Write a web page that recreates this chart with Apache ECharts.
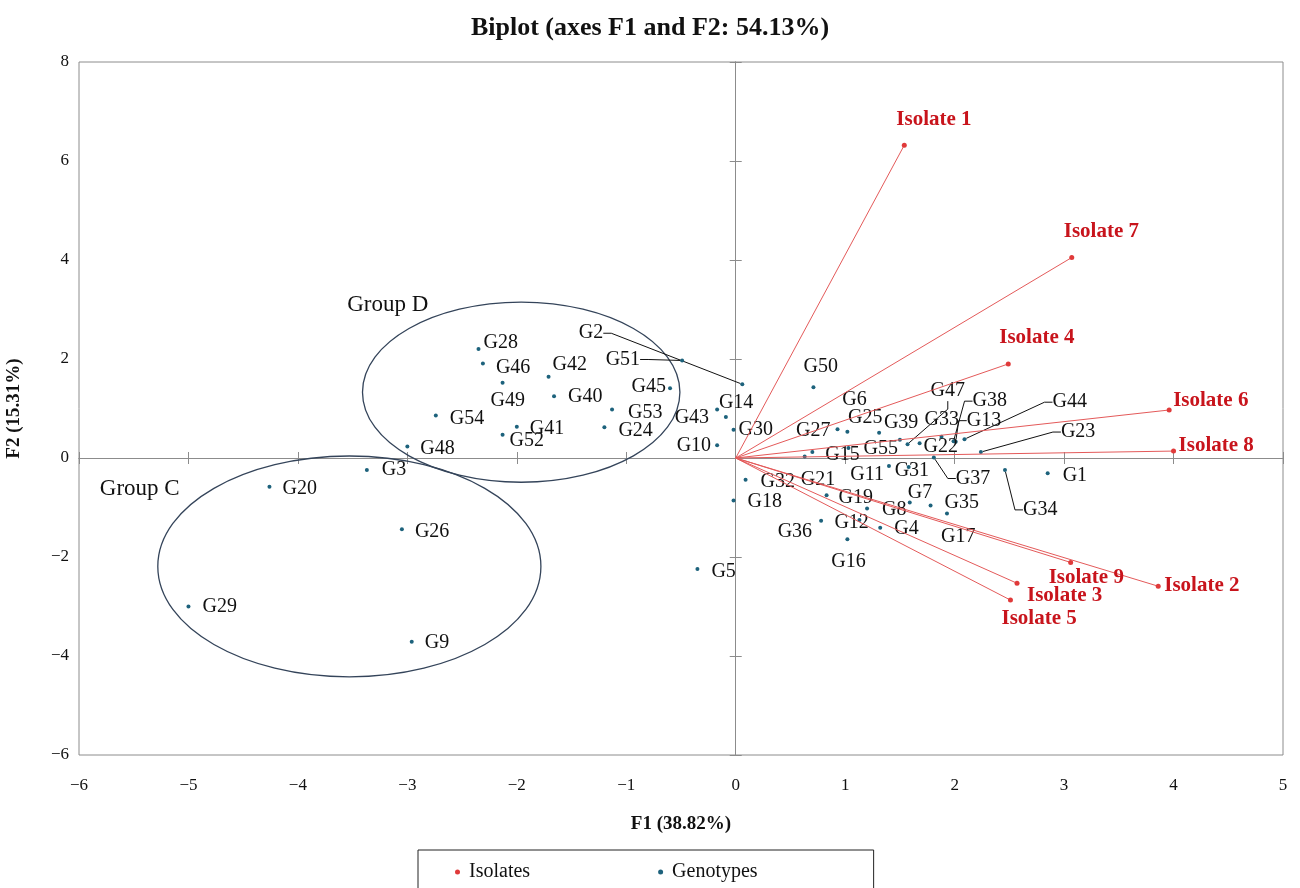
<!DOCTYPE html>
<html>
<head>
<meta charset="utf-8">
<script src="https://cdn.jsdelivr.net/npm/echarts@6/dist/echarts.min.js"></script>
<style>
  html, body { margin: 0; padding: 0; background: #fff; }
  #chart { width: 1300px; height: 888px; }
</style>
</head>
<body>
<div id="chart"></div>
<script>
// ---- Data: genotype scores on F1 / F2 ----
const genotypeNames = [
  'G1','G2','G3','G4','G5','G6','G7','G8','G9','G10',
  'G11','G12','G13','G14','G15','G16','G17','G18','G19','G20',
  'G21','G22','G23','G24','G25','G26','G27','G28','G29','G30',
  'G31','G32','G33','G34','G35','G36','G37','G38','G39','G40',
  'G41','G42','G43','G44','G45','G46','G47','G48','G49','G50',
  'G51','G52','G53','G54','G55'
];
const genotypeF1 = [
  2.85, 0.06, -3.37, 1.32, -0.35, 1.02, 1.59, 1.20, -2.96, -0.17,
  1.40, 1.13, 2.01, -0.09, 0.70, 1.02, 1.93, -0.02, 0.83, -4.26,
  0.63, 1.68, 2.24, -1.20, 1.31, -3.05, 0.93, -2.35, -5.00, -0.02,
  1.58, 0.09, 1.88, 2.46, 1.78, 0.78, 1.81, 1.99, 1.50, -1.66,
  -2.00, -1.71, -0.17, 2.09, -0.60, -2.31, 1.57, -3.00, -2.13, 0.71,
  -0.49, -2.13, -1.13, -2.74, 1.03
];
const genotypeF2 = [
  -0.31, 1.49, -0.24, -1.41, -2.24, 0.53, -0.90, -1.02, -3.71, 0.26,
  -0.16, -1.25, 0.33, 0.83, 0.12, -1.64, -1.12, -0.86, -0.75, -0.58,
  0.03, 0.30, 0.12, 0.62, 0.51, -1.44, 0.58, 2.20, -3.00, 0.57,
  -0.18, -0.44, 0.43, -0.24, -0.96, -1.27, 0.01, 0.34, 0.37, 1.25,
  0.63, 1.64, 0.98, 0.38, 1.41, 1.91, 0.28, 0.23, 1.52, 1.43,
  1.97, 0.47, 0.98, 0.86, 0.20
];

// ---- Data: isolate loadings (vectors from the origin) ----
const isolateNames = ['Isolate 1','Isolate 2','Isolate 3','Isolate 4','Isolate 5','Isolate 6','Isolate 7','Isolate 8','Isolate 9'];
const isolateF1 = [1.54, 3.86, 2.57, 2.49, 2.51, 3.96, 3.07, 4.00, 3.06];
const isolateF2 = [6.32, -2.59, -2.53, 1.90, -2.87, 0.97, 4.05, 0.14, -2.11];

// ---- Axis ticks ----
const xTicks = [-6, -5, -4, -3, -2, -1, 0, 1, 2, 3, 4, 5];
const yTicks = [-6, -4, -2, 0, 2, 4, 6, 8];

// ---- Group outlines (centre, semi-axes in axis units) ----
const groupNames = ['Group D', 'Group C'];
const groupCenterF1 = [-1.96, -3.53];
const groupCenterF2 = [1.33, -2.19];
const groupRadiusF1 = [1.45, 1.75];
const groupRadiusF2 = [1.82, 2.23];

// ---- Layout: label placement in pixels relative to each point ----
// [dx, dy] -> label starts to the right; [dx, dy, 'r'] -> label ends at dx
const genoLabelPlace = {
  G28: [5, -6], G46: [13, 4], G49: [-12, 18], G42: [4, -12], G40: [14, 1],
  G54: [14, 3], G41: [13, 2], G52: [7, 6], G48: [13, 2], G53: [16, 3],
  G24: [14, 3], G45: [-4, -1, 'r'], G51: [-42, -1, 'r'], G2: [-139, -51, 'r'],
  G43: [-8, 8, 'r'], G14: [-7, -14], G10: [-6, 1, 'r'], G30: [5, 0],
  G50: [-10, -20], G27: [-7, 1, 'r'], G6: [-5, -32], G25: [-31, -15],
  G39: [-16, -17], G47: [23, -53], G33: [-17, -17], G38: [19, -40],
  G13: [11, -21], G44: [88, -37], G23: [80, -20], G22: [4, 4], G55: [15, 1],
  G15: [13, 3], G21: [-4, 23], G11: [-5, 9, 'r'], G31: [-14, 4],
  G37: [22, 21], G34: [18, 40], G1: [15, 2], G32: [15, 2], G18: [14, 1],
  G19: [12, 3], G36: [-9, 11, 'r'], G12: [-25, 3], G16: [-16, 23], G8: [15, 1],
  G4: [14, 1], G7: [-2, -10], G35: [14, -3], G17: [-6, 23], G5: [14, 3],
  G3: [15, 0], G20: [13, 2], G26: [13, 2], G29: [14, 0], G9: [13, 1]
};
const genoWithLeader = ['G2', 'G51', 'G47', 'G38', 'G13', 'G44', 'G23', 'G37', 'G34'];
const isoLabelPlace = {
  'Isolate 1': [-8, -26], 'Isolate 7': [-8, -26], 'Isolate 4': [-9, -26],
  'Isolate 6': [4, -9], 'Isolate 8': [5, -5], 'Isolate 9': [-22, 15],
  'Isolate 2': [6, -1], 'Isolate 3': [10, 12], 'Isolate 5': [-9, 19]
};

const SERIF = '"Liberation Serif", "Times New Roman", serif';
const GENO_COLOR = '#1d627c';
const ISO_DOT = '#e03a3a';
const ISO_LINE = '#e45a5a';
const ISO_TEXT = '#c8141c';
const FRAME = '#8c8c8c';
const INK = '#111111';

const genotypeData = genotypeNames.map((n, i) => ({
  name: n,
  value: [genotypeF1[i], genotypeF2[i]],
  labelLine: { show: genoWithLeader.indexOf(n) >= 0 }
}));
const isolateData = isolateNames.map((n, i) => ({ name: n, value: [isolateF1[i], isolateF2[i]] }));
const groupData = groupNames.map((n, i) => ({
  name: n,
  value: [groupCenterF1[i], groupCenterF2[i], groupRadiusF1[i], groupRadiusF2[i]]
}));
// group caption anchors (axis units: left edge / vertical middle of text)
const groupCaptionAt = { 'Group D': [-3.55, 3.09], 'Group C': [-5.81, -0.63] };

function placeLabel(names, place) {
  return function (p) {
    const nm = names[p.dataIndex];
    const pl = place[nm] || [13, 2];
    const cx = p.rect.x + p.rect.width / 2;
    const cy = p.rect.y + p.rect.height / 2;
    return {
      x: cx + pl[0],
      y: cy + pl[1],
      align: pl[2] === 'r' ? 'right' : 'left',
      verticalAlign: 'middle'
    };
  };
}

const minus = v => String(v).replace('-', '\u2212');
const xMin = xTicks[0], xMax = xTicks[xTicks.length - 1], xStep = xTicks[1] - xTicks[0];
const yMin = yTicks[0], yMax = yTicks[yTicks.length - 1], yStep = yTicks[1] - yTicks[0];

function valueAxis(min, max, step, extra) {
  return Object.assign({
    type: 'value', min: min, max: max, interval: step,
    splitLine: { show: false }
  }, extra);
}

const zeroAxisCommon = (inside) => ({
  axisLine: { show: true, onZero: true, onZeroAxisIndex: 0, lineStyle: { color: FRAME, width: 1 } },
  axisTick: { show: true, inside: inside, length: 6, lineStyle: { color: FRAME, width: 1 } },
  axisLabel: { show: false },
  name: ''
});

const chart = echarts.init(document.getElementById('chart'), null, { renderer: 'canvas' });

chart.setOption({
  animation: false,
  backgroundColor: '#ffffff',
  title: {
    text: 'Biplot (axes F1 and F2: 54.13%)',
    left: 'center',
    top: 10,
    textStyle: { fontFamily: SERIF, fontWeight: 'bold', fontSize: 26, color: INK }
  },
  legend: {
    data: [
      { name: 'Isolates', icon: 'circle' },
      { name: 'Genotypes', icon: 'circle' }
    ],
    selectedMode: false,
    left: 418,
    top: 850,
    orient: 'horizontal',
    itemWidth: 5,
    itemHeight: 5,
    itemGap: 128,
    padding: [12, 116, 30, 37],
    borderColor: '#222',
    borderWidth: 1,
    textStyle: { fontFamily: SERIF, fontSize: 20, color: INK, padding: [0, 0, 0, 4] }
  },
  grid: {
    left: 79, right: 17, top: 62, bottom: 133,
    show: true, borderColor: FRAME, borderWidth: 1,
    containLabel: false, outerBoundsMode: 'none'
  },
  xAxis: [
    valueAxis(xMin, xMax, xStep, {
      position: 'bottom',
      axisLine: { show: false, onZero: false },
      axisTick: { show: false },
      axisLabel: { margin: 22, fontFamily: SERIF, fontSize: 17, color: INK, formatter: minus },
      name: 'F1 (38.82%)',
      nameLocation: 'middle',
      nameGap: 60,
      nameTextStyle: { fontFamily: SERIF, fontWeight: 'bold', fontSize: 19, color: INK }
    }),
    valueAxis(xMin, xMax, xStep, Object.assign({ position: 'bottom' }, zeroAxisCommon(false))),
    valueAxis(xMin, xMax, xStep, Object.assign({ position: 'bottom' }, zeroAxisCommon(true)))
  ],
  yAxis: [
    valueAxis(yMin, yMax, yStep, {
      position: 'left',
      axisLine: { show: false, onZero: false },
      axisTick: { show: false },
      axisLabel: { margin: 10, fontFamily: SERIF, fontSize: 17, color: INK, formatter: minus },
      name: 'F2 (15.31%)',
      nameLocation: 'middle',
      nameGap: 55,
      nameRotate: 90,
      nameTextStyle: { fontFamily: SERIF, fontWeight: 'bold', fontSize: 19, color: INK }
    }),
    valueAxis(yMin, yMax, yStep, Object.assign({ position: 'left' }, zeroAxisCommon(false))),
    valueAxis(yMin, yMax, yStep, Object.assign({ position: 'left' }, zeroAxisCommon(true)))
  ],
  series: [
    {
      // ellipses around the two genotype clusters
      name: 'groups',
      type: 'custom',
      silent: true,
      data: groupData,
      renderItem: function (params, api) {
        const c = api.coord([api.value(0), api.value(1)]);
        const rx = api.size([api.value(2), 0])[0];
        const ry = api.size([0, api.value(3)])[1];
        const nm = groupNames[params.dataIndex];
        const cap = api.coord(groupCaptionAt[nm]);
        return {
          type: 'group',
          children: [
            {
              type: 'ellipse',
              shape: { cx: c[0], cy: c[1], rx: rx, ry: ry },
              style: { fill: null, stroke: '#34445a', lineWidth: 1.3 }
            },
            {
              type: 'text',
              style: {
                text: nm, x: cap[0], y: cap[1],
                verticalAlign: 'middle', align: 'left',
                font: '23px ' + SERIF, fill: INK
              }
            }
          ]
        };
      }
    },
    {
      name: 'Genotypes',
      type: 'scatter',
      symbol: 'circle',
      symbolSize: 4,
      itemStyle: { color: GENO_COLOR, opacity: 1 },
      data: genotypeData,
      label: {
        show: true,
        formatter: '{b}',
        fontFamily: SERIF,
        fontSize: 20,
        color: INK,
        opacity: 1
      },
      labelLine: {
        show: false,
        length2: 8,
        lineStyle: { color: INK, width: 1, opacity: 1 }
      },
      labelLayout: placeLabel(genotypeNames, genoLabelPlace),
      z: 3
    },
    {
      // isolate vectors from the origin
      name: 'vectors',
      type: 'custom',
      silent: true,
      data: isolateData,
      renderItem: function (params, api) {
        const o = api.coord([0, 0]);
        const p = api.coord([api.value(0), api.value(1)]);
        return {
          type: 'line',
          shape: { x1: o[0], y1: o[1], x2: p[0], y2: p[1] },
          style: { stroke: ISO_LINE, lineWidth: 1 }
        };
      },
      z: 4
    },
    {
      name: 'Isolates',
      type: 'scatter',
      symbol: 'circle',
      symbolSize: 5,
      itemStyle: { color: ISO_DOT, opacity: 1 },
      data: isolateData,
      label: {
        show: true,
        formatter: '{b}',
        fontFamily: SERIF,
        fontWeight: 'bold',
        fontSize: 21,
        color: ISO_TEXT,
        opacity: 1
      },
      labelLayout: placeLabel(isolateNames, isoLabelPlace),
      z: 5
    }
  ]
});
</script>
</body>
</html>
